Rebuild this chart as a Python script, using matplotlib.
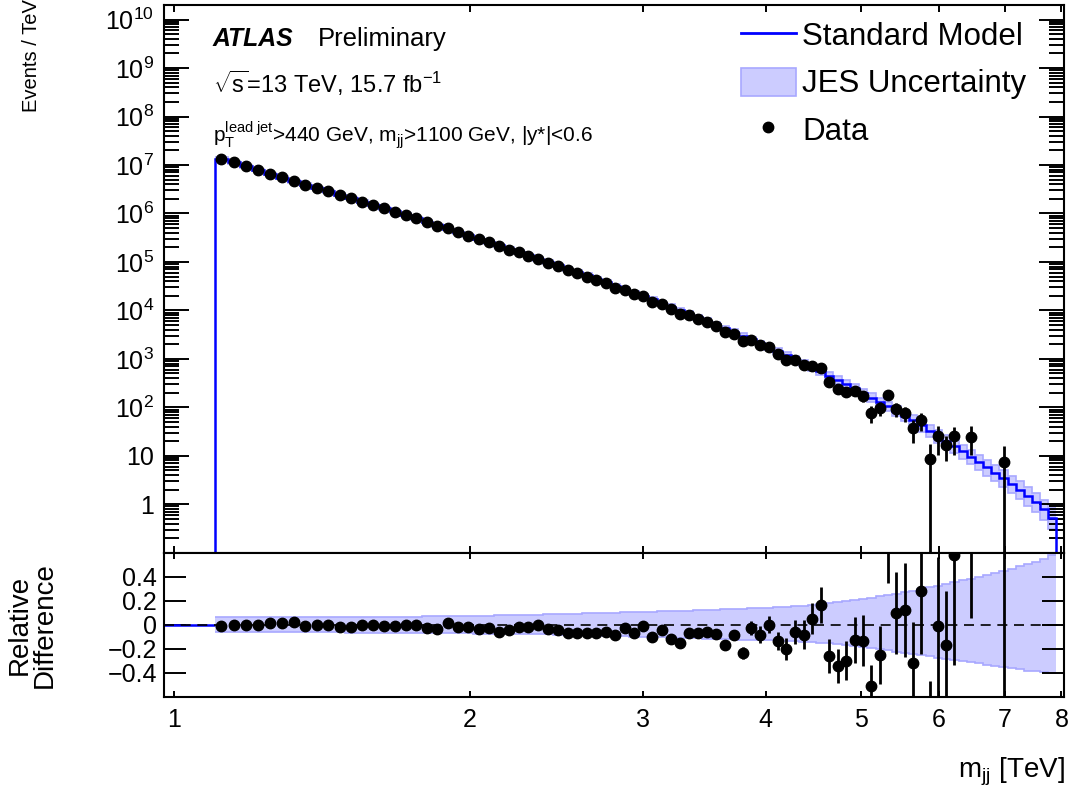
import numpy as np
import matplotlib
matplotlib.use("Agg")
import matplotlib.pyplot as plt
from matplotlib.lines import Line2D
from matplotlib.patches import Patch
from matplotlib.ticker import FixedLocator, FixedFormatter, LogLocator, NullLocator, NullFormatter

plt.rcParams["font.family"] = ["Liberation Sans", "DejaVu Sans"]
plt.rcParams["mathtext.fontset"] = "custom"
plt.rcParams["mathtext.rm"] = "Liberation Sans"
plt.rcParams["mathtext.it"] = "Liberation Sans:italic"
plt.rcParams["mathtext.bf"] = "Liberation Sans:bold"

# bin edges [GeV]
edges_gev = [1100, 1133, 1166, 1200, 1234, 1269, 1305, 1341, 1378, 1416,
             1454, 1493, 1533, 1573, 1614, 1656, 1698, 1741, 1785, 1830,
             1875, 1921, 1968, 2016, 2065, 2114, 2164, 2215, 2267, 2320,
             2374, 2429, 2485, 2542, 2600, 2659, 2719, 2780, 2842, 2905,
             2969, 3034, 3100, 3167, 3235, 3305, 3376, 3448, 3521, 3596,
             3672, 3749, 3827, 3907, 3988, 4070, 4154, 4239, 4326, 4414,
             4504, 4595, 4688, 4782, 4878, 4975, 5074, 5175, 5277, 5381,
             5487, 5595, 5705, 5817, 5931, 6047, 6165, 6285, 6407, 6531,
             6658, 6787, 6918, 7052, 7188, 7326, 7467, 7610, 7756, 7904]

# Standard Model prediction [events / TeV]
sm_per_tev = [1.36e7, 1.13e7, 9.38e6, 7.82e6, 6.55e6, 5.50e6, 4.59e6, 3.91e6, 3.35e6, 2.87e6,
              2.44e6, 2.08e6, 1.76e6, 1.50e6, 1.29e6, 1.10e6, 9.38e5, 7.94e5, 6.76e5, 5.75e5,
              4.84e5, 4.13e5, 3.53e5, 3.02e5, 2.59e5, 2.22e5, 1.89e5, 1.60e5, 1.36e5, 1.16e5,
              9.95e4, 8.47e4, 7.24e4, 6.19e4, 5.30e4, 4.53e4, 3.80e4, 3.21e4, 2.74e4, 2.32e4,
              1.97e4, 1.68e4, 1.42e4, 1.20e4, 1.01e4, 8.57e3, 7.24e3, 6.10e3, 5.13e3, 4.30e3,
              3.59e3, 3.01e3, 2.51e3, 2.09e3, 1.74e3, 1.45e3, 1.20e3, 989, 813, 668,
              550, 450, 367, 301, 249, 197, 158, 129, 105, 85.1,
              67.6, 53.5, 42.2, 33.1, 25.8, 20.4, 16.0, 12.4, 9.66, 7.50,
              5.82, 4.47, 3.43, 2.63, 2.00, 1.50, 1.11, 0.794, 0.525]

# JES uncertainty (relative, up / down)
jes_up = [0.062, 0.062, 0.062, 0.063, 0.063, 0.063, 0.064, 0.064, 0.064, 0.065,
          0.065, 0.066, 0.066, 0.067, 0.067, 0.068, 0.068, 0.069, 0.070, 0.071,
          0.072, 0.073, 0.074, 0.075, 0.077, 0.078, 0.080, 0.081, 0.083, 0.085,
          0.087, 0.089, 0.091, 0.093, 0.095, 0.097, 0.099, 0.101, 0.103, 0.106,
          0.108, 0.110, 0.112, 0.114, 0.116, 0.118, 0.120, 0.123, 0.126, 0.129,
          0.132, 0.134, 0.137, 0.140, 0.143, 0.146, 0.150, 0.155, 0.160, 0.165,
          0.170, 0.178, 0.186, 0.195, 0.205, 0.215, 0.225, 0.236, 0.248, 0.260,
          0.272, 0.285, 0.298, 0.312, 0.326, 0.340, 0.355, 0.370, 0.385, 0.400,
          0.415, 0.432, 0.450, 0.468, 0.487, 0.506, 0.525, 0.550, 0.580]
jes_down = [0.060, 0.060, 0.060, 0.061, 0.061, 0.061, 0.062, 0.062, 0.062, 0.063,
            0.063, 0.064, 0.064, 0.065, 0.065, 0.066, 0.066, 0.067, 0.068, 0.069,
            0.070, 0.071, 0.072, 0.073, 0.074, 0.075, 0.076, 0.077, 0.078, 0.079,
            0.080, 0.082, 0.084, 0.086, 0.088, 0.090, 0.092, 0.094, 0.096, 0.098,
            0.100, 0.102, 0.104, 0.106, 0.108, 0.110, 0.112, 0.114, 0.116, 0.118,
            0.120, 0.122, 0.124, 0.126, 0.128, 0.130, 0.133, 0.136, 0.140, 0.144,
            0.148, 0.155, 0.162, 0.170, 0.178, 0.186, 0.195, 0.204, 0.213, 0.222,
            0.232, 0.242, 0.252, 0.262, 0.272, 0.282, 0.292, 0.302, 0.311, 0.320,
            0.330, 0.340, 0.350, 0.360, 0.370, 0.380, 0.388, 0.395, 0.400]

# (data - SM) / SM, None = empty bin
rel_diff = [-0.008, 0.0, 0.0, 0.0, 0.014, 0.014, 0.022, -0.008, -0.005, -0.005,
            -0.019, -0.019, -0.005, -0.005, -0.008, -0.008, -0.005, 0.0, -0.028, -0.036,
            0.014, -0.019, -0.019, -0.036, -0.028, -0.056, -0.047, -0.014, -0.019, 0.0,
            -0.036, -0.042, -0.064, -0.064, -0.069, -0.070, -0.056, -0.083, -0.025, -0.064,
            -0.008, -0.103, -0.042, -0.119, -0.148, -0.069, -0.069, -0.056, -0.075, -0.164,
            -0.083, -0.231, -0.028, -0.083, 0.0, -0.133, -0.203, -0.056, -0.083, 0.050,
            0.167, -0.258, -0.342, -0.297, -0.125, -0.131, -0.506, -0.250, 0.720, 0.098,
            0.122, -0.314, 0.280, -0.738, -0.006, -0.167, 0.583, None, 1.51, None,
            None, None, 1.16, None, None, None, None, None, None]
rel_err_lo = [0.005, 0.005, 0.005, 0.005, 0.005, 0.005, 0.005, 0.005, 0.005, 0.005,
              0.005, 0.005, 0.005, 0.005, 0.005, 0.005, 0.005, 0.005, 0.005, 0.005,
              0.005, 0.008, 0.008, 0.008, 0.008, 0.008, 0.008, 0.008, 0.008, 0.008,
              0.008, 0.012, 0.012, 0.012, 0.012, 0.012, 0.012, 0.012, 0.012, 0.018,
              0.018, 0.018, 0.018, 0.018, 0.018, 0.025, 0.025, 0.025, 0.025, 0.035,
              0.040, 0.050, 0.060, 0.070, 0.070, 0.075, 0.090, 0.100, 0.120, 0.130,
              0.150, 0.140, 0.140, 0.160, 0.190, 0.210, 0.200, 0.240, 0.370, 0.340,
              0.390, 0.350, 0.520, 0.262, 0.600, 0.450, 0.920, None, 1.45, None,
              None, None, 2.16, None, None, None, None, None, None]
rel_err_hi = [0.005, 0.005, 0.005, 0.005, 0.005, 0.005, 0.005, 0.005, 0.005, 0.005,
              0.005, 0.005, 0.005, 0.005, 0.005, 0.005, 0.005, 0.005, 0.005, 0.005,
              0.005, 0.008, 0.008, 0.008, 0.008, 0.008, 0.008, 0.008, 0.008, 0.008,
              0.008, 0.012, 0.012, 0.012, 0.012, 0.012, 0.012, 0.012, 0.012, 0.018,
              0.018, 0.018, 0.018, 0.018, 0.018, 0.025, 0.025, 0.025, 0.025, 0.035,
              0.040, 0.050, 0.060, 0.070, 0.070, 0.075, 0.090, 0.100, 0.120, 0.130,
              0.150, 0.140, 0.140, 0.160, 0.190, 0.210, 0.170, 0.240, 0.500, 0.340,
              0.390, 0.340, 0.550, 0.270, 0.570, 0.450, 0.900, None, 1.80, None,
              None, None, 2.50, None, None, None, None, None, None]

x_ticks = [1, 2, 3, 4, 5, 6, 7, 8]
y_ticks = [1, 10, 1e2, 1e3, 1e4, 1e5, 1e6, 1e7, 1e8, 1e9, 1e10]
y_tick_labels = ["1", "10", "$10^{2}$", "$10^{3}$", "$10^{4}$", "$10^{5}$",
                 "$10^{6}$", "$10^{7}$", "$10^{8}$", "$10^{9}$", "$10^{10}$"]
r_ticks = [-0.4, -0.2, 0, 0.2, 0.4]
r_tick_labels = ["\u22120.4", "\u22120.2", "0", "0.2", "0.4"]

xlo, xhi = 0.976, 8.055
ylo, yhi = 0.1, 2e10

edges = np.array(edges_gev) / 1000.0
centers = 0.5 * (edges[:-1] + edges[1:])
sm = np.array(sm_per_tev)
up = np.array(jes_up)
dn = np.array(jes_down)
rel = np.array(rel_diff, dtype=float)
elo = np.array(rel_err_lo, dtype=float)
ehi = np.array(rel_err_hi, dtype=float)
data = sm * (1 + rel)

band_face = "#ccccff"
band_edge = "#a8a8ff"
sm_blue = "#0000ff"

fig = plt.figure(figsize=(10.73, 7.93), dpi=100)
ax1 = fig.add_axes([0.1528, 0.3030, 0.8392, 0.6907])
ax2 = fig.add_axes([0.1528, 0.1211, 0.8392, 0.1819])

# ---- upper panel
ax1.stairs(sm * (1 + up), edges, baseline=sm * (1 - dn), fill=True, color=band_face, lw=0, zorder=1)
ax1.stairs(sm * (1 + up), edges, baseline=None, color=band_edge, lw=1.2, zorder=1.5)
ax1.stairs(sm * (1 - dn), edges, baseline=None, color=band_edge, lw=1.2, zorder=1.5)
ax1.stairs(sm, edges, baseline=ylo, color=sm_blue, lw=1.8, zorder=2)

d_lo = np.maximum(data - sm * elo, 1e-3)
d_hi = data + sm * ehi
ax1.vlines(centers, d_lo, d_hi, color="k", lw=2, zorder=3)
ax1.plot(centers, data, "o", color="k", ms=7.5, zorder=4)

ax1.set_xscale("log")
ax1.set_yscale("log")
ax1.set_xlim(xlo, xhi)
ax1.set_ylim(ylo, yhi)
ax1.xaxis.set_major_locator(FixedLocator(x_ticks))
ax1.xaxis.set_minor_locator(NullLocator())
ax1.xaxis.set_major_formatter(NullFormatter())
ax1.yaxis.set_major_locator(FixedLocator(y_ticks))
ax1.yaxis.set_major_formatter(FixedFormatter(y_tick_labels))
ax1.yaxis.set_minor_locator(LogLocator(base=10, subs=np.arange(2, 10), numticks=30))
ax1.yaxis.set_minor_formatter(NullFormatter())
ax1.tick_params(axis="both", which="both", direction="in", top=True, right=True, width=1.4, labelsize=18)
ax1.tick_params(axis="y", which="major", length=18, pad=7)
ax1.tick_params(axis="y", which="minor", length=11)
ax1.tick_params(axis="x", which="major", length=5)
ax1.set_ylabel("Events / TeV", fontsize=14.5, loc="top")
ax1.yaxis.set_label_coords(-0.137, 1.01)

ax1.text(0.054, 0.925, "ATLAS", transform=ax1.transAxes, fontsize=17.8,
         fontweight="bold", fontstyle="italic")
ax1.text(0.171, 0.925, "Preliminary", transform=ax1.transAxes, fontsize=18.5)
ax1.text(0.054, 0.839, r"$\sqrt{\mathrm{s}}$=13 TeV, 15.7 fb$^{-1}$", transform=ax1.transAxes, fontsize=17)
ax1.text(0.054, 0.750, r"p$_{\mathrm{T}}^{\mathrm{lead\ jet}}$>440 GeV, m$_{\mathrm{jj}}$>1100 GeV, |y*|<0.6",
         transform=ax1.transAxes, fontsize=15)

handles = [Line2D([], [], color=sm_blue, lw=2),
           Patch(facecolor=band_face, edgecolor=band_edge, lw=1.2),
           Line2D([], [], color="k", marker="o", ls="none", ms=7.5)]
labels = ["Standard Model", "JES Uncertainty", "Data"]
ax1.legend(handles, labels, loc="upper right", bbox_to_anchor=(0.958, 0.972), frameon=False,
           fontsize=22.5, handlelength=1.76, handleheight=1.0, handletextpad=0.22,
           labelspacing=0.5, borderaxespad=0, borderpad=0)

# ---- lower panel
ax2.stairs(up, edges, baseline=-dn, fill=True, color=band_face, lw=0, zorder=1)
ax2.stairs(up, edges, baseline=None, color=band_edge, lw=1.2, zorder=1.5)
ax2.stairs(-dn, edges, baseline=None, color=band_edge, lw=1.2, zorder=1.5)
ax2.hlines(0, xlo, edges[0], color=sm_blue, lw=1.8, zorder=2)
ax2.axhline(0, color="k", lw=1.2, ls=(0, (6, 4)), zorder=2.5)
ax2.vlines(centers, rel - elo, rel + ehi, color="k", lw=2, zorder=3)
ax2.plot(centers, rel, "o", color="k", ms=7.5, zorder=4)

ax2.set_xscale("log")
ax2.set_xlim(xlo, xhi)
ax2.set_ylim(-0.6, 0.6)
ax2.xaxis.set_major_locator(FixedLocator(x_ticks))
ax2.xaxis.set_major_formatter(FixedFormatter([str(t) for t in x_ticks]))
ax2.xaxis.set_minor_locator(NullLocator())
ax2.yaxis.set_major_locator(FixedLocator(r_ticks))
ax2.yaxis.set_major_formatter(FixedFormatter(r_tick_labels))
ax2.yaxis.set_minor_locator(NullLocator())
ax2.tick_params(axis="both", which="both", direction="in", top=True, right=True, width=1.4, labelsize=18)
ax2.tick_params(axis="y", length=16, pad=5)
ax2.tick_params(axis="x", length=4, pad=8)
ax2.set_ylabel("Relative\nDifference", fontsize=20, linespacing=0.95)
ax2.yaxis.set_label_coords(-0.118, 0.5)
ax2.set_xlabel(r"m$_{\mathrm{jj}}$ [TeV]", fontsize=20, loc="right")
ax2.xaxis.set_label_coords(1.0, -0.41)

for ax in (ax1, ax2):
    for s in ax.spines.values():
        s.set_linewidth(1.5)

fig.savefig("out.png", dpi=100)
